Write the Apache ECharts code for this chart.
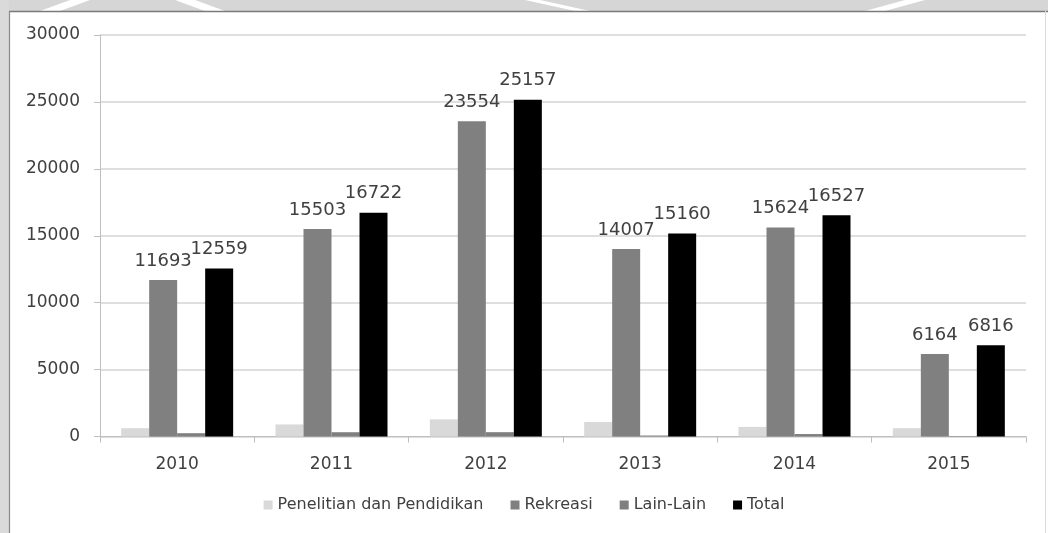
<!DOCTYPE html>
<html><head><meta charset="utf-8">
<script src="https://cdn.jsdelivr.net/npm/echarts@6/dist/echarts.min.js"></script>
<style>html,body{margin:0;padding:0;background:#fff}#c{width:1048px;height:533px}</style>
</head><body><div id="c"></div>
<script>
const categories = ['2010','2011','2012','2013','2014','2015'];
const penelitian = [620, 900, 1280, 1080, 720, 620];
const rekreasi = [11693, 15503, 23554, 14007, 15624, 6164];
const lainLain = [246, 319, 323, 73, 183, 32];
const total = [12559, 16722, 25157, 15160, 16527, 6816];
const seriesNames = ['Penelitian dan Pendidikan','Rekreasi','Lain-Lain','Total'];
const yTicks = {min: 0, max: 30000, interval: 5000};

const chart = echarts.init(document.getElementById('c'), null, {renderer: 'canvas'});
const font = 'DejaVu Sans';
const labelStyle = {show: true, position: 'top', distance: 10, color: '#404040', fontSize: 18, fontFamily: font};
function mk(name, data, color, label) {
  return {name, type: 'bar', data, barWidth: 28, barGap: '0%',
    itemStyle: {color}, label: label ? labelStyle : {show: false}};
}
chart.setOption({
  animation: false,
  backgroundColor: '#ffffff',
  graphic: [
    {type: 'rect', shape: {x: 0, y: 0, width: 1048, height: 11}, style: {fill: '#d6d6d6'}, z: -10},
    {type: 'rect', shape: {x: 0, y: 0, width: 9, height: 533}, style: {fill: '#dadada'}, z: -10},
    {type: 'polygon', shape: {points: [[70,0],[90,0],[60,11],[40,11]]}, style: {fill: '#ffffff'}, z: -9},
    {type: 'polygon', shape: {points: [[175,0],[195,0],[225,11],[205,11]]}, style: {fill: '#ffffff'}, z: -9},
    {type: 'polygon', shape: {points: [[525,0],[540,0],[590,11],[575,11]]}, style: {fill: '#ffffff'}, z: -9},
    {type: 'polygon', shape: {points: [[905,0],[925,0],[885,11],[865,11]]}, style: {fill: '#ffffff'}, z: -9},
    {type: 'line', shape: {x1: 9, y1: 11.5, x2: 1048, y2: 11.5}, style: {stroke: '#7a7a7a', lineWidth: 1.5}, z: -8},
    {type: 'line', shape: {x1: 9.5, y1: 11, x2: 9.5, y2: 533}, style: {stroke: '#8a8a8a', lineWidth: 1.2}, z: -8},
    {type: 'line', shape: {x1: 1045.5, y1: 11, x2: 1045.5, y2: 533}, style: {stroke: '#dcdcdc', lineWidth: 1}, z: -8}
  ],
  grid: {left: 100, right: 22, top: 35, bottom: 96.5, containLabel: false},
  legend: {
    data: seriesNames, bottom: 15, left: 'center', itemWidth: 9, itemHeight: 9, itemGap: 27,
    icon: 'rect', textStyle: {color: '#404040', fontSize: 16, fontFamily: font}
  },
  xAxis: {
    type: 'category', data: categories,
    axisLine: {lineStyle: {color: '#bfbfbf', width: 1}},
    axisTick: {show: true, length: 6, alignWithLabel: false, lineStyle: {color: '#bfbfbf'}},
    axisLabel: {color: '#404040', fontSize: 17, fontFamily: font, margin: 20}
  },
  yAxis: {
    type: 'value', min: yTicks.min, max: yTicks.max, interval: yTicks.interval,
    axisLine: {show: true, lineStyle: {color: '#bfbfbf'}},
    axisTick: {show: true, length: 6, lineStyle: {color: '#bfbfbf'}},
    axisLabel: {color: '#404040', fontSize: 17, fontFamily: font, margin: 20, formatter: v => String(v)},
    splitLine: {lineStyle: {color: '#d4d4d4', width: 1.5}}
  },
  series: [
    mk(seriesNames[0], penelitian, '#d9d9d9', false),
    mk(seriesNames[1], rekreasi, '#808080', true),
    mk(seriesNames[2], lainLain, '#7f7f7f', false),
    mk(seriesNames[3], total, '#000000', true)
  ]
});
</script></body></html>
